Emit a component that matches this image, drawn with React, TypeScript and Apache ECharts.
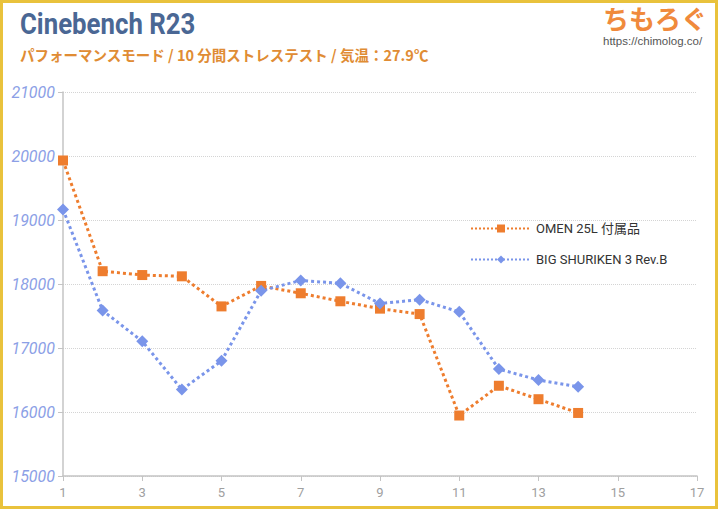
import React, { useEffect, useRef } from "react";
import * as echarts from "echarts";

const xCategories = ["1","2","3","4","5","6","7","8","9","10","11","12","13","14","15","16","17"];
const omenValues = [19930, 18200, 18140, 18120, 17650, 17970, 17855, 17730, 17615, 17530, 15945, 16410, 16200, 15985];
const shurikenValues = [19165, 17585, 17105, 16350, 16800, 17895, 18055, 18010, 17695, 17755, 17565, 16670, 16500, 16395];
const seriesNames = ["OMEN 25L 付属品", "BIG SHURIKEN 3 Rev.B"];
const titleText = "Cinebench R23";
const subtitleText = "パフォーマンスモード / 10 分間ストレステスト / 気温：27.9℃";

export default function App() {
  const ref = useRef<HTMLDivElement>(null);
  useEffect(() => {
    const chart = echarts.init(ref.current!, null, { renderer: "svg" });
    chart.setOption({
      animation: false,
      backgroundColor: "#ffffff",
      grid: { left: 63, right: 21, top: 92, bottom: 33 },
      xAxis: {
        type: "category",
        data: xCategories,
        boundaryGap: false,
        axisLine: { lineStyle: { color: "#c4c4c4", width: 1.5 } },
        axisTick: { interval: 1, length: 5, lineStyle: { color: "#c4c4c4" } },
        axisLabel: { interval: 1, color: "#a0a0a0", fontFamily: "Roboto", fontSize: 13, margin: 10 },
        splitLine: { show: false },
      },
      yAxis: {
        type: "value",
        min: 15000,
        max: 21000,
        interval: 1000,
        axisLine: { show: true, lineStyle: { color: "#c4c4c4", width: 1.5 } },
        axisTick: { show: true, length: 5, lineStyle: { color: "#c4c4c4" } },
        axisLabel: {
          color: "#8c9fe6",
          fontFamily: "Roboto",
          fontStyle: "italic",
          fontSize: 16,
          margin: 8,
          formatter: (v: number) => String(v),
        },
        splitLine: { lineStyle: { color: "#d4d4d4", type: "dotted", width: 1 } },
      },
      legend: {
        orient: "vertical",
        left: 465,
        top: 217,
        itemWidth: 60,
        itemHeight: 10,
        itemGap: 18,
        textStyle: { color: "#333333", fontFamily: "Roboto, 'Noto Sans CJK JP'", fontSize: 13 },
        data: seriesNames,
      },
      series: [
        {
          name: seriesNames[0],
          type: "line",
          data: omenValues,
          symbol: "rect",
          symbolSize: 10,
          itemStyle: { color: "#ee7d2e" },
          lineStyle: { color: "#ee7d2e", width: 3, type: "dotted" },
        },
        {
          name: seriesNames[1],
          type: "line",
          data: shurikenValues,
          symbol: "diamond",
          symbolSize: 12,
          itemStyle: { color: "#7a95ea" },
          lineStyle: { color: "#7a95ea", width: 3, type: "dotted" },
        },
      ],
      graphic: [
        {
          type: "rect",
          shape: { x: 1.5, y: 1.5, width: 715, height: 506 },
          style: { fill: "none", stroke: "#e9c23c", lineWidth: 3 },
          silent: true,
        },
        {
          type: "text",
          x: 20,
          y: 9,
          scaleX: 0.86,
          style: { text: titleText, fill: "#4a6794", font: "bold 30px Roboto" },
        },
        {
          type: "text",
          left: 20,
          top: 47,
          style: { text: subtitleText, fill: "#e08c34", font: "bold 14.5px 'Noto Sans CJK JP'" },
        },
        {
          type: "text",
          left: 603,
          top: 4,
          style: { text: "ちもろぐ", fill: "#f08a3c", font: "bold 26px 'Noto Sans CJK JP'" },
        },
        {
          type: "text",
          left: 603,
          top: 35,
          style: { text: "https://chimolog.co/", fill: "#555555", font: "11.5px 'Liberation Sans'" },
        },
      ],
    });
    return () => chart.dispose();
  }, []);
  return <div ref={ref} style={{ position: "fixed", left: 0, top: 0, width: 718, height: 509 }} />;
}
